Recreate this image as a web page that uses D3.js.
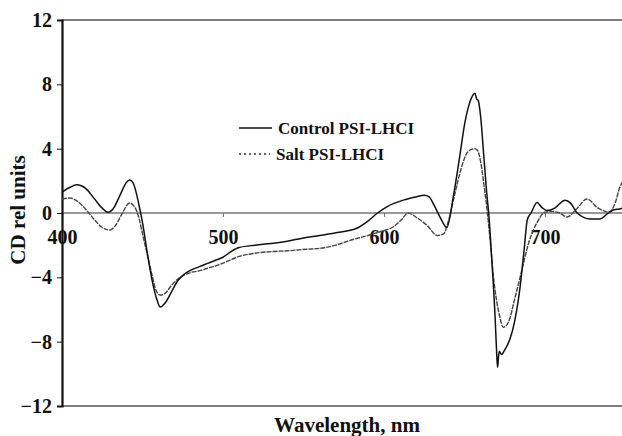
<!DOCTYPE html>
<html><head><meta charset="utf-8">
<script src="https://cdn.jsdelivr.net/npm/d3@7/dist/d3.min.js"></script>
<style>body{margin:0;background:#fff}svg{display:block}</style>
</head><body><svg id="c" width="622" height="436"></svg>
<script>
const yTicks = [-12, -8, -4, 0, 4, 8, 12];
const xTicks = [400, 500, 600, 700];
const seriesNames = ["Control PSI-LHCI", "Salt PSI-LHCI"];
const controlWl = [400,405,409,415,420,425,428.6,432,436,440,442,444,446,448,450,453,456,459,461,464,468,472,476,480,485,490,495,500,505,510,520,530,540,550,560,572,583,590,596,602,612,620,625,628,631,635,639,643,647,650,653,655,656.5,657.5,658.5,660,662,664,665,667,669,670,670.5,671.5,673,675,678,681,684,687,689,691.3,695,698,701,706,709.3,712.4,716,720,728,734,740,743,746.3,748];
const controlCD = [1.3,1.6,1.75,1.5,0.9,0.3,0.05,0.3,1.1,1.9,2.05,1.9,1.3,0.4,-0.6,-2.5,-4.2,-5.4,-5.85,-5.6,-4.9,-4.2,-3.8,-3.55,-3.35,-3.15,-2.95,-2.75,-2.4,-2.15,-2.0,-1.9,-1.75,-1.55,-1.4,-1.2,-0.95,-0.5,0,0.4,0.8,1.0,1.1,1.0,0.5,-0.3,-0.9,1.0,3.5,5.5,6.8,7.3,7.45,7.1,7.0,6.0,3.5,1.0,0,-3,-6.5,-8.8,-9.6,-8.6,-8.8,-8.5,-7.9,-6.8,-5.0,-2.3,-0.4,0,0.65,0.35,0.15,0.3,0.6,0.8,0.6,0,-0.37,-0.37,0.06,0.2,0.25,0.3];
const saltWl = [400,405,410,415,420,425,429.8,433,437,442,445,448,450,453,456,458,461,464,468,472,476,480,485,490,495,498,505,510,520,530,540,552,560,570,579,590,598,605.6,611,614.9,620.5,627,633,637,640,644,648,652,656,658,660,662,664,666,668,670,672,674,676,678,681,685,690,695,700,705,709,713.7,720,726,733,740,743.5,746.3,748];
const saltCD = [0.87,0.93,0.7,0.2,-0.4,-0.9,-1.06,-0.8,-0.1,0.62,0.4,-0.4,-1.3,-2.6,-3.9,-4.7,-5.1,-5.0,-4.5,-4.1,-3.85,-3.7,-3.6,-3.45,-3.3,-3.2,-2.9,-2.7,-2.5,-2.4,-2.35,-2.25,-2.2,-2.0,-1.7,-1.4,-1.15,-0.87,-0.4,0,-0.3,-0.8,-1.4,-1.3,-0.5,1.2,2.8,3.8,4.0,3.9,3.2,1.8,0.2,-1.8,-4,-5.5,-6.5,-7.1,-7.0,-6.6,-5.4,-3.8,-1.8,-0.6,0.05,0.1,0,-0.25,0.3,0.87,0.3,0.06,0.6,1.55,1.9];

const FONT = "'Liberation Serif','Times New Roman',Times,serif";
const svg = d3.select("#c");
const x = d3.scaleLinear().domain([400, 747.8]).range([62, 622]);
const y = d3.scaleLinear().domain([-12, 12]).range([406, 20]);

svg.append("line").attr("x1",62).attr("x2",622).attr("y1",y(12)).attr("y2",y(12)).attr("stroke","#555").attr("stroke-width",1.5);
svg.append("line").attr("x1",62).attr("x2",622).attr("y1",y(-12)).attr("y2",y(-12)).attr("stroke","#555").attr("stroke-width",1.5);
svg.append("line").attr("x1",62).attr("x2",622).attr("y1",y(0)).attr("y2",y(0)).attr("stroke","#777").attr("stroke-width",1.5);

const xg = svg.append("g").attr("transform",`translate(0,${y(0)})`)
  .call(d3.axisBottom(x).tickValues(xTicks).tickSize(4).tickPadding(13).tickFormat(d3.format("d")));
xg.select(".domain").remove();
xg.selectAll("line").attr("stroke","#777").attr("stroke-width",1);
xg.selectAll("text").attr("font-family",FONT).attr("font-weight","bold").attr("font-size",20).attr("fill","#111");

const yg = svg.append("g").attr("transform","translate(62,0)")
  .call(d3.axisLeft(y).tickValues(yTicks).tickSize(5).tickPadding(5));
yg.select(".domain").attr("stroke","#111").attr("stroke-width",2.2);
yg.selectAll("line").attr("stroke","#111").attr("stroke-width",1);
yg.selectAll("text").attr("font-family",FONT).attr("font-weight","bold").attr("font-size",20).attr("fill","#111");

const line = d3.line().x(d=>x(d[0])).y(d=>y(d[1])).curve(d3.curveMonotoneX);
svg.append("clipPath").attr("id","pc").append("rect").attr("x",62).attr("y",20).attr("width",560).attr("height",386);
const salt = saltWl.map((w,i)=>[w,saltCD[i]]);
const ctrl = controlWl.map((w,i)=>[w,controlCD[i]]);
svg.append("path").datum(salt).attr("d",line).attr("fill","none").attr("stroke","#444").attr("stroke-width",1.4).attr("stroke-dasharray","5,1").attr("clip-path","url(#pc)");
svg.append("path").datum(ctrl).attr("d",line).attr("fill","none").attr("stroke","#111").attr("stroke-width",1.5).attr("clip-path","url(#pc)");

const T = (sel)=>sel.attr("font-family",FONT).attr("font-weight","bold").attr("fill","#111");
svg.append("line").attr("x1",239).attr("x2",272).attr("y1",128).attr("y2",128).attr("stroke","#111").attr("stroke-width",1.5);
T(svg.append("text")).attr("x",278).attr("y",134).attr("font-size",17).text(seriesNames[0]);
svg.append("line").attr("x1",239).attr("x2",270).attr("y1",154).attr("y2",154).attr("stroke","#333").attr("stroke-width",1.5).attr("stroke-dasharray","2,3");
T(svg.append("text")).attr("x",276).attr("y",160).attr("font-size",17).text(seriesNames[1]);

T(svg.append("text")).attr("x",347).attr("y",432).attr("text-anchor","middle").attr("font-size",21).text("Wavelength, nm");
T(svg.append("text")).attr("transform","translate(25,210) rotate(-90)").attr("text-anchor","middle").attr("font-size",21).text("CD rel units");
</script></body></html>
